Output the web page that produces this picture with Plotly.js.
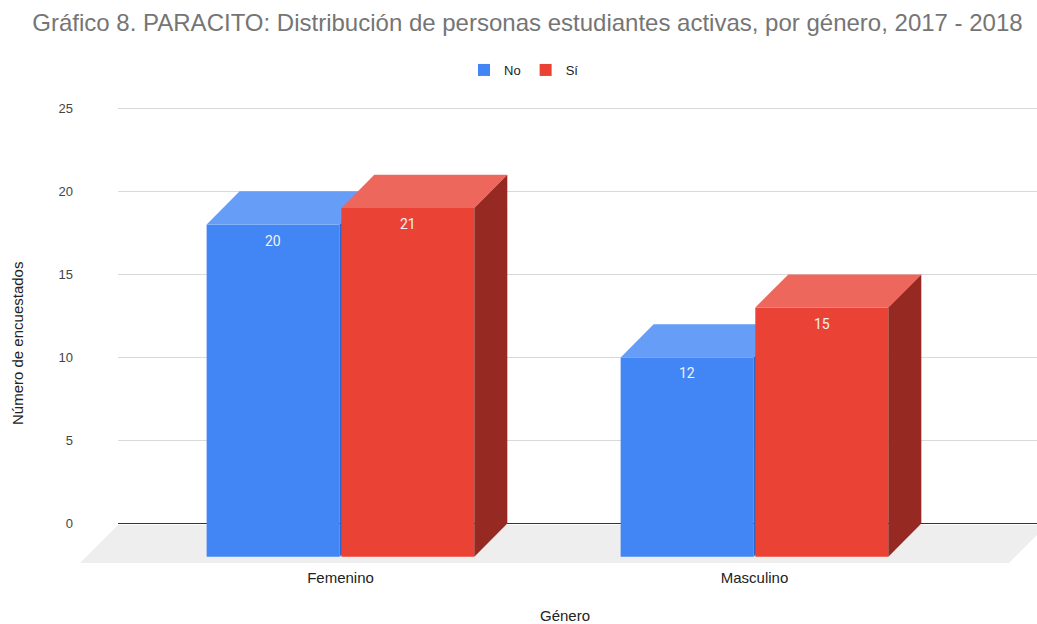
<!DOCTYPE html>
<html>
<head>
<meta charset="utf-8">
<script src="https://cdn.plot.ly/plotly-3.0.1.min.js"></script>
<style>html,body{margin:0;padding:0;background:#fff;}#chart{width:1037px;height:624px;}</style>
</head>
<body>
<div id="chart"></div>
<script>
// ---- data ----
const categories = ['Femenino', 'Masculino'];
const seriesNames = ['No', 'Sí'];
const noValues = [20, 12];
const siValues = [21, 15];
const yTicks = [0, 5, 10, 15, 20, 25];

// ---- styles ----
const frontColors = ['#4285F4', '#EA4335'];
const topColors = ['#669DF6', '#EE675C'];
const sideColors = ['#2F63C9', '#962A23'];
const BAR_W = 0.3213;   // bar width (x units)
const GAP = 0.002;      // half gap between the two bars
const DX = 0.0797;      // depth, x units
const DY = 2.0;         // depth, y units

const M = {l: 118, r: 0, t: 100, b: 59};
const W = 1037, H = 624;
const plotW = W - M.l - M.r, plotH = H - M.t - M.b;
const XR = [-0.5374, 1.6824];
const YR = [-2.5, 25.5];

const series = [noValues, siValues];
const traces = [];
const annotations = [];

series.forEach(function (vals, s) {
  const xa = s === 0 ? 'x' : 'x2';
  const ya = s === 0 ? 'y' : 'y2';
  const centers = categories.map(function (c, i) {
    return s === 0 ? i - BAR_W / 2 - GAP : i + BAR_W / 2 + GAP;
  });
  // front faces
  traces.push({
    type: 'bar', name: seriesNames[s], x: centers, y: vals,
    base: vals.map(function () { return -DY; }),
    width: BAR_W,
    marker: {color: frontColors[s], line: {width: 0}},
    xaxis: xa, yaxis: ya, hoverinfo: 'skip', showlegend: true
  });
  // top and side faces
  vals.forEach(function (v, i) {
    const x0 = centers[i] - BAR_W / 2, x1 = centers[i] + BAR_W / 2;
    const ft = v - DY;
    traces.push({
      type: 'scatter', mode: 'lines', fill: 'toself',
      x: [x0, x0 + DX, x1 + DX, x1, x0],
      y: [ft, v, v, ft, ft],
      fillcolor: topColors[s], line: {width: 0, color: topColors[s]},
      xaxis: xa, yaxis: ya, hoverinfo: 'skip', showlegend: false
    });
    traces.push({
      type: 'scatter', mode: 'lines', fill: 'toself',
      x: [x1, x1 + DX, x1 + DX, x1, x1],
      y: [ft, v, 0, -DY, ft],
      fillcolor: sideColors[s], line: {width: 0, color: sideColors[s]},
      xaxis: xa, yaxis: ya, hoverinfo: 'skip', showlegend: false
    });
    annotations.push({
      x: centers[i], y: ft, xref: xa, yref: ya, text: String(v),
      showarrow: false, yanchor: 'middle', yshift: -16,
      font: {family: 'Roboto, Arial, sans-serif', size: 14, color: '#f2f2f2'}
    });
  });
});

// axis titles as annotations
annotations.push({
  text: 'Número de encuestados', xref: 'paper', yref: 'paper',
  x: (17 - M.l) / plotW, y: (H - M.b - 344) / plotH, textangle: -90,
  xanchor: 'center', yanchor: 'middle', showarrow: false,
  font: {family: 'Liberation Sans, Arial, sans-serif', size: 15, color: '#222'}
});
annotations.push({
  text: 'Género', xref: 'paper', yref: 'paper',
  x: (565 - M.l) / plotW, y: (H - M.b - 615) / plotH,
  xanchor: 'center', yanchor: 'middle', showarrow: false,
  font: {family: 'Liberation Sans, Arial, sans-serif', size: 15, color: '#222'}
});

// floor
function px2x(p) { return (p - M.l) / plotW; }
function py2y(p) { return (H - M.b - p) / plotH; }
const shapes = [{
  type: 'path', xref: 'paper', yref: 'paper', layer: 'below',
  path: 'M' + px2x(118) + ',' + py2y(525) + ' L' + px2x(1047) + ',' + py2y(525) +
        ' L' + px2x(1009) + ',' + py2y(563) + ' L' + px2x(80) + ',' + py2y(563) + ' Z',
  fillcolor: '#EEEEEE', line: {width: 0}
}];

const layout = {
  width: W, height: H, margin: M,
  paper_bgcolor: '#ffffff', plot_bgcolor: 'rgba(0,0,0,0)',
  barmode: 'overlay',
  title: {
    text: 'Gráfico 8. PARACITO: Distribución de personas estudiantes activas, por género, 2017 - 2018',
    x: 527.5 / W, xref: 'container', xanchor: 'center',
    y: 1 - 23 / H, yref: 'container', yanchor: 'middle',
    font: {family: 'Liberation Sans, Arial, sans-serif', size: 24, color: '#757575'}
  },
  showlegend: true,
  legend: {
    orientation: 'h', x: px2x(524), xanchor: 'center',
    y: 1 - 70 / H, yref: 'container', yanchor: 'middle',
    font: {family: 'Liberation Sans, Arial, sans-serif', size: 13, color: '#222'},
    traceorder: 'normal'
  },
  xaxis: {
    range: XR, tickvals: [0, 1], ticktext: categories,
    showgrid: false, zeroline: false, showline: false, ticks: '',
    ticklabelstandoff: 2,
    tickfont: {family: 'Liberation Sans, Arial, sans-serif', size: 15, color: '#222'},
    fixedrange: true
  },
  yaxis: {
    range: YR, tickvals: yTicks, showgrid: true, gridcolor: '#d9d9d9', gridwidth: 1,
    zeroline: true, zerolinecolor: '#333333', zerolinewidth: 1,
    showline: false, ticks: '', ticklabelstandoff: 44,
    tickfont: {family: 'Liberation Sans, Arial, sans-serif', size: 13, color: '#444'},
    fixedrange: true
  },
  xaxis2: {range: XR, overlaying: 'x', visible: false, fixedrange: true},
  yaxis2: {range: YR, overlaying: 'y', visible: false, fixedrange: true},
  annotations: annotations,
  shapes: shapes
};

Plotly.newPlot('chart', traces, layout, {displayModeBar: false, staticPlot: true});
</script>
</body>
</html>
